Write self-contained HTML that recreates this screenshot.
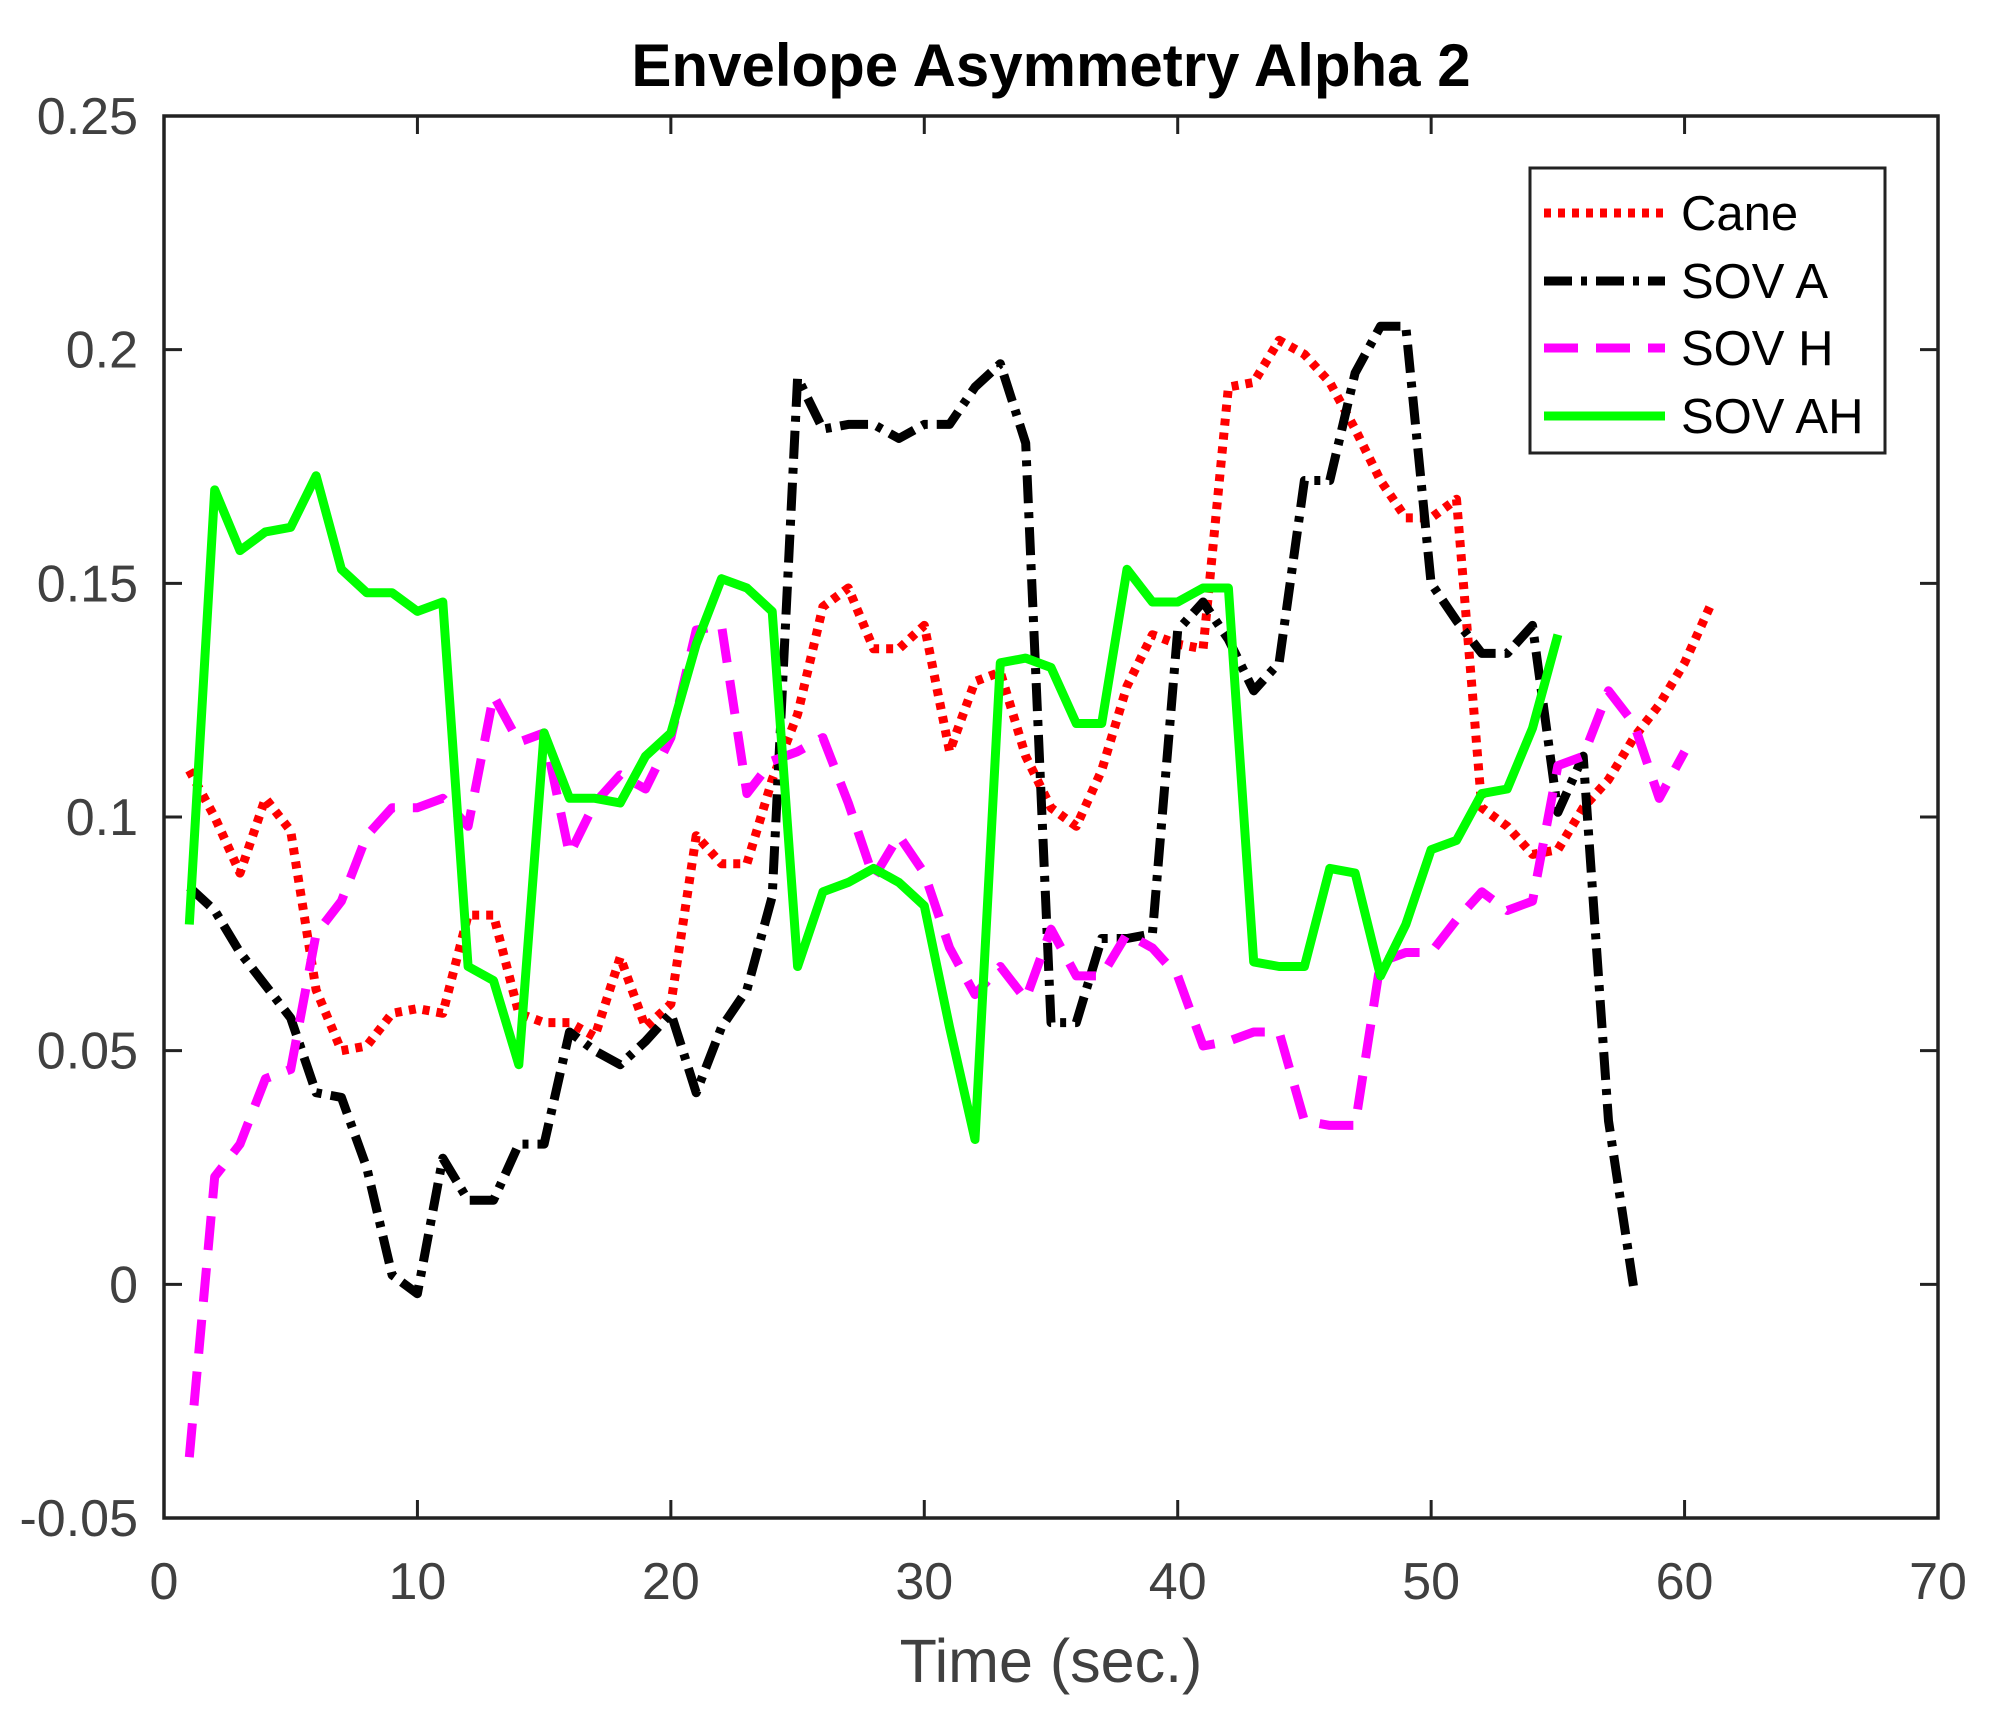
<!DOCTYPE html>
<html><head><meta charset="utf-8"><style>
body{margin:0;background:#fff}
svg{display:block;font-family:"Liberation Sans",Arial,sans-serif}
</style></head><body>
<svg id="chart" width="2000" height="1715" viewBox="0 0 2000 1715" xmlns="http://www.w3.org/2000/svg">
<rect width="2000" height="1715" fill="#fff"/>
<text x="1051" y="86" text-anchor="middle" font-size="60" font-weight="bold" fill="#000">Envelope Asymmetry Alpha 2</text>
<g id="ticks"></g>
<g id="series"></g>
<rect x="164" y="116" width="1774" height="1402" fill="none" stroke="#222" stroke-width="3.5"/>
<text x="1051" y="1682" text-anchor="middle" font-size="61" fill="#404040">Time (sec.)</text>
<g>
<rect x="1530" y="168" width="355" height="285" fill="#fff" stroke="#222" stroke-width="3"/>
<g id="legend"></g>
</g>
</svg>
<script>
const caneX = [];for(let i=1;i<=61;i++)caneX.push(i);
const caneY = [0.110,0.100,0.088,0.104,0.097,0.063,0.050,0.051,0.058,0.059,0.058,0.079,0.079,0.058,0.056,0.056,0.053,0.070,0.055,0.060,0.096,0.090,0.090,0.108,0.122,0.145,0.149,0.136,0.136,0.141,0.114,0.129,0.131,0.113,0.102,0.098,0.110,0.128,0.139,0.137,0.136,0.192,0.193,0.202,0.199,0.193,0.183,0.172,0.164,0.164,0.168,0.102,0.098,0.092,0.093,0.102,0.108,0.117,0.124,0.133,0.145];
const sovAY = [0.085,0.080,0.071,0.064,0.057,0.041,0.040,0.025,0.002,-0.002,0.027,0.018,0.018,0.030,0.030,0.054,0.050,0.047,0.052,0.058,0.041,0.055,0.063,0.083,0.194,0.183,0.184,0.184,0.181,0.184,0.184,0.192,0.197,0.180,0.056,0.056,0.074,0.074,0.075,0.140,0.146,0.138,0.127,0.133,0.172,0.172,0.195,0.205,0.205,0.150,0.142,0.135,0.135,0.141,0.101,0.113,0.035,-0.001];
const sovHY = [-0.037,0.023,0.030,0.044,0.046,0.075,0.082,0.096,0.102,0.102,0.104,0.098,0.126,0.116,0.118,0.092,0.103,0.109,0.106,0.117,0.140,0.141,0.105,0.112,0.114,0.117,0.103,0.087,0.096,0.088,0.072,0.062,0.068,0.061,0.076,0.066,0.066,0.075,0.072,0.066,0.051,0.052,0.054,0.054,0.035,0.034,0.034,0.069,0.071,0.071,0.078,0.084,0.080,0.082,0.111,0.113,0.127,0.120,0.104,0.114];
const sovAHY = [0.077,0.170,0.157,0.161,0.162,0.173,0.153,0.148,0.148,0.144,0.146,0.068,0.065,0.047,0.118,0.104,0.104,0.103,0.113,0.118,0.137,0.151,0.149,0.144,0.068,0.084,0.086,0.089,0.086,0.081,0.055,0.031,0.133,0.134,0.132,0.120,0.120,0.153,0.146,0.146,0.149,0.149,0.069,0.068,0.068,0.089,0.088,0.066,0.077,0.093,0.095,0.105,0.106,0.119,0.139];
const xTicks = [0,10,20,30,40,50,60,70];
const yTicks = [-0.05,0,0.05,0.1,0.15,0.2,0.25];
const yTickLabels = ["-0.05","0","0.05","0.1","0.15","0.2","0.25"];
const seriesNames = ["Cane","SOV A","SOV H","SOV AH"];

const L=164,R=1938,T=116,B=1518;
const sx=v=>L+(v-0)/(70-0)*(R-L);
const sy=v=>B-(v+0.05)/(0.30)*(B-T);
const NS="http://www.w3.org/2000/svg";
function mk(tag,attrs,parent){const e=document.createElementNS(NS,tag);for(const k in attrs)e.setAttribute(k,attrs[k]);parent.appendChild(e);return e;}
const tg=document.getElementById('ticks');
xTicks.forEach(t=>{
  const x=sx(t);
  const l1=mk('line',{x1:x,x2:x,y1:B,y2:B-18,stroke:'#222','stroke-width':3},tg);
  
  
  mk('line',{x1:x,x2:x,y1:T,y2:T+18,stroke:'#222','stroke-width':3},tg);
  const tx=mk('text',{x:x,y:1599,'text-anchor':'middle','font-size':52,fill:'#404040'},tg);
  tx.textContent=t;
  
  
});
yTicks.forEach((t,i)=>{
  const y=sy(t);
  const l1=mk('line',{x1:L,x2:L+18,y1:y,y2:y,stroke:'#222','stroke-width':3},tg);
  
  
  mk('line',{x1:R,x2:R-18,y1:y,y2:y,stroke:'#222','stroke-width':3},tg);
  const tx=mk('text',{x:138,y:y+18,'text-anchor':'end','font-size':52,fill:'#404040'},tg);
  tx.textContent=yTickLabels[i];
  
  
});
const styles=[
  {c:'#ff0000',d:'7 7'},
  {c:'#000000',d:'28 9 6 9'},
  {c:'#ff00ff',d:'34 18'},
  {c:'#00ff00',d:'none'}
];
const datas=[caneY,sovAY,sovHY,sovAHY];
const names=['series-cane','series-sov-a','series-sov-h','series-sov-ah'];
const sg=document.getElementById('series');
datas.forEach((d,i)=>{
  const pts=d.map((v,j)=>sx(j+1).toFixed(1)+','+sy(v).toFixed(1)).join(' ');
  const p=mk('polyline',{points:pts,fill:'none',stroke:styles[i].c,'stroke-width':9,'stroke-dasharray':styles[i].d,'stroke-linejoin':'round'},sg);
  
  
});
const lg=document.getElementById('legend');
const ly=[213,281,348,416];
seriesNames.forEach((n,i)=>{
  const g=mk('g',{},lg);
  
  
  mk('line',{x1:1544,x2:1665,y1:ly[i],y2:ly[i],stroke:styles[i].c,'stroke-width':9,'stroke-dasharray':styles[i].d},g);
  const t=mk('text',{x:1681,y:ly[i]+17,'font-size':49,fill:'#000'},g);
  t.textContent=n;
});
</script>
</body></html>
